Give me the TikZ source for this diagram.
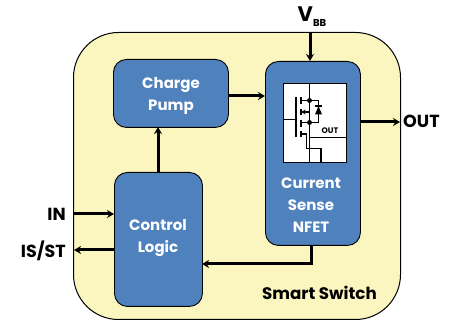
\documentclass[tikz,border=0pt]{standalone}
\usepackage{fontspec}
\setmainfont{Poppins}
\usetikzlibrary{arrows.meta,calc}
\definecolor{shell}{HTML}{FBF6C0}
\definecolor{blk}{HTML}{4F81BD}
\tikzset{
  x=1pt,y=-1pt,
  outer/.style={draw=black,line width=1pt,fill=shell,rounded corners=45pt,minimum width=327pt,minimum height=287pt,anchor=north west,inner sep=0pt},
  block/.style={draw=black,line width=0.9pt,fill=blk,rounded corners=13pt,anchor=north west,inner sep=0pt},
  blocktext/.style={text=white,align=center,inner sep=0pt,anchor=center,font=\fontsize{15}{22}\selectfont\bfseries},
  conn/.style={line width=3pt,-{Stealth[length=7pt,width=8pt]}},
  lab/.style={font=\fontsize{17.5}{20}\selectfont\bfseries,inner sep=0pt},
  fet/.style={line width=1.5pt},
  dot/.style={circle,fill=black,inner sep=0pt,minimum size=5pt},
}
\begin{document}
\begin{tikzpicture}
\useasboundingbox (0,0) rectangle (453,320);
\node[outer] (shell) at (73,32) {};
\node[block,minimum width=115pt,minimum height=68pt] (pump) at (113,59) {};
\node[block,minimum width=88pt,minimum height=134pt] (logic) at (114,172) {};
\node[block,minimum width=95pt,minimum height=184pt] (sense) at (265,61) {};
\node[draw=black,line width=1pt,fill=white,minimum width=63pt,minimum height=79pt,anchor=north west,inner sep=0pt] (win) at (283,83) {};
\node[blocktext] (pumplabel) at (171,96) {Charge\\Pump};
\node[blocktext] (logiclabel) at (158,238.5) {Control\\Logic};
\node[blocktext] (senselabel) at (311,205) {Current\\Sense\\NFET};
\node[lab,anchor=west,font=\fontsize{16.7}{20}\selectfont\bfseries] (smart) at (262,293) {Smart Switch};
\node[lab,anchor=east] (in) at (66,214) {IN};
\node[lab,anchor=east] (isst) at (66,251) {IS/ST};
\node[lab,anchor=west] (out) at (403,121) {OUT};
\node[lab,anchor=center,font=\fontsize{21}{21}\selectfont\bfseries] (vbb) at (312,17) {V\raisebox{-5pt}{\fontsize{10}{10}\selectfont\bfseries BB}};
\node[font=\fontsize{8}{8}\selectfont\bfseries,inner sep=0pt] (outsmall) at (330,130.5) {OUT};

\coordinate (vtop) at (310,33);
\coordinate (vend) at (310,61);
\coordinate (inL) at (73,214);
\coordinate (inR) at (114,214);
\coordinate (isR) at (114,250);
\coordinate (isL) at (74,250);
\coordinate (oL) at (360,122);
\coordinate (oR) at (400,122);
\coordinate (cpL) at (228,96);
\coordinate (cpR) at (265,96);
\coordinate (upB) at (158,172);
\coordinate (upT) at (158,127);
\coordinate (fbT) at (311,245);
\coordinate (fbC) at (311,264);
\coordinate (fbE) at (202,264);

\draw[conn] (vtop) -- (vend);
\draw[conn] (inL) -- (inR);
\draw[conn] (isR) -- (isL);
\draw[conn] (oL) -- (oR);
\draw[conn] (cpL) -- (cpR);
\draw[conn] (upB) -- (upT);
\draw[conn] (fbT) -- (fbC) -- (fbE);

% MOSFET symbol
\draw[fet] (283,119.5) -- (296,119.5);
\draw[fet,line width=1.8pt] (296,97) -- (296,137);
\foreach \a/\b in {97/104,109/115,120/127,131/137} \draw[fet,line width=1.8pt] (301,\a) -- (301,\b);
\draw[fet] (309.5,83) -- (309.5,162);
\draw[fet] (301,100.5) -- (318.5,100.5) -- (318.5,122.5) -- (309.5,122.5);
\draw[fet] (301,122.5) -- (309.5,122.5);
\draw[fet,-{Stealth[length=4pt,width=5pt]}] (309.5,112) -- (301.5,112);
\draw[fet] (301,134) -- (306.5,134) -- (306.5,148.5) -- (321,148.5) -- (321,162);
\draw[fet] (309.5,137.5) -- (346,137.5);
\fill (318.5,106) -- (315,114.5) -- (322,114.5) -- cycle;
\draw[fet] (315,106) -- (322,106);
\node[dot] (d1) at (309.5,100.5) {};
\node[dot] (d2) at (309.5,122.5) {};
\end{tikzpicture}
\end{document}
